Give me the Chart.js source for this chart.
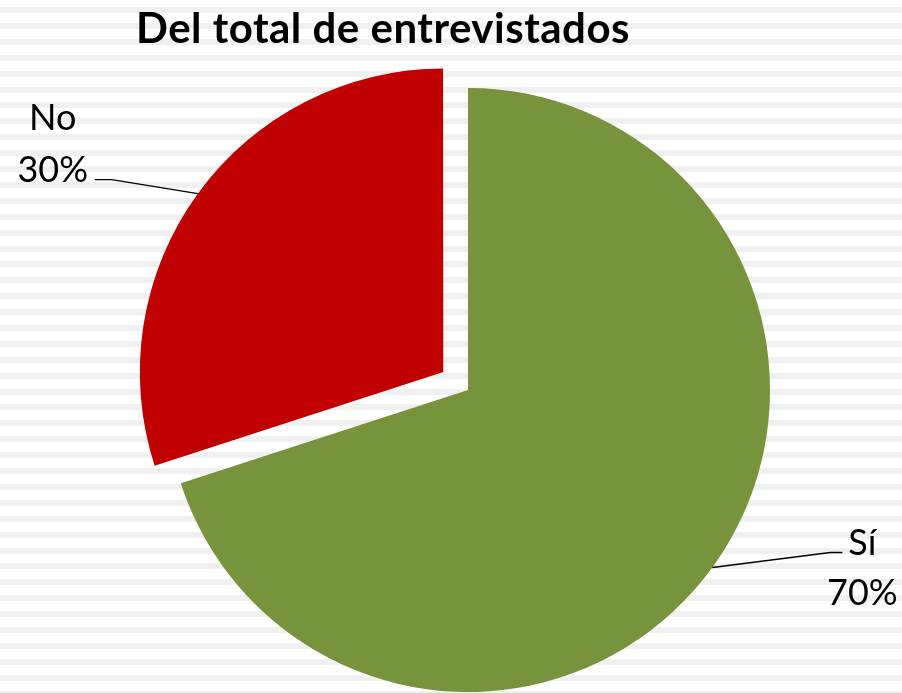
<!DOCTYPE html>
<html><head><meta charset="utf-8">
<script src="https://cdn.jsdelivr.net/npm/chart.js@4.4.0/dist/chart.umd.min.js"></script>
<style>html,body{margin:0;padding:0;background:#fff}canvas{display:block}</style>
</head><body>
<canvas id="c" width="902" height="693"></canvas>
<script>
const chartTitle = 'Del total de entrevistados';
const categories = ['Sí', 'No'];
const values = [70, 30];
const sliceColors = ['#77933C', '#C00000'];
// Chart.js v4 draws an arc's offset at ~1/4 of the option value
const sliceOffsets = [0, 122];

// label placement relative to the slice's outer edge point (layout only)
const labelLayout = [
  { elbow: [118, -15], end: [130, -15], text: 150, base: [-13, 37] },
  { elbow: [-86, -14], end: [-103, -14], text: -145, base: [-64, -12] }
];

const stripes = {
  id: 'stripes',
  beforeDraw(chart) {
    const ctx = chart.ctx;
    ctx.save();
    ctx.fillStyle = '#ffffff';
    ctx.fillRect(0, 0, chart.width, chart.height);
    ctx.fillStyle = '#f0f0f0';
    for (let y = 7; y < chart.height; y += 15.9) {
      ctx.fillRect(0, Math.round(y), chart.width, 6);
    }
    ctx.restore();
  }
};

const pieLabels = {
  id: 'pieLabels',
  afterDatasetsDraw(chart) {
    const ctx = chart.ctx;
    const meta = chart.getDatasetMeta(0);
    const total = values.reduce((a, b) => a + b, 0);
    ctx.save();
    meta.data.forEach((arc, i) => {
      const p = arc.getProps(['x', 'y', 'startAngle', 'endAngle', 'outerRadius'], true);
      const circ = p.endAngle - p.startAngle;
      const base = (arc.options.offset || 0) / 4;
      const fix = 1 - Math.sin(Math.min(Math.PI, circ));
      const off = base * (1 + fix);
      const mid = (p.startAngle + p.endAngle) / 2;
      const ex = p.x + Math.cos(mid) * (p.outerRadius + off);
      const ey = p.y + Math.sin(mid) * (p.outerRadius + off);
      const L = labelLayout[i];
      ctx.strokeStyle = '#000';
      ctx.lineWidth = 1.3;
      ctx.beginPath();
      ctx.moveTo(ex, ey);
      ctx.lineTo(ex + L.elbow[0], ey + L.elbow[1]);
      ctx.lineTo(ex + L.end[0], ey + L.end[1]);
      ctx.stroke();
      ctx.fillStyle = '#000';
      ctx.font = '36px Lato';
      ctx.textAlign = 'center';
      ctx.textBaseline = 'alphabetic';
      ctx.fillText(categories[i], ex + L.text, ey + L.base[0]);
      ctx.fillText(Math.round(values[i] / total * 100) + '%', ex + L.text, ey + L.base[1]);
    });
    ctx.font = 'bold 42px Lato';
    ctx.letterSpacing = '0.5px';
    ctx.textAlign = 'center';
    ctx.fillStyle = '#000';
    ctx.fillText(chartTitle, 383, 43);
    ctx.restore();
  }
};

new Chart(document.getElementById('c'), {
  type: 'pie',
  data: {
    labels: categories,
    datasets: [{
      data: values,
      backgroundColor: sliceColors,
      offset: sliceOffsets,
      hoverOffset: 0,
      borderWidth: 0,
      clip: false,
      radius: 302
    }]
  },
  options: {
    responsive: false,
    animation: false,
    devicePixelRatio: 1,
    layout: { padding: { left: 34, right: 0, top: 87, bottom: 0 } },
    plugins: {
      legend: { display: false },
      tooltip: { enabled: false },
      title: { display: false }
    }
  },
  plugins: [stripes, pieLabels]
});
</script>
</body></html>
